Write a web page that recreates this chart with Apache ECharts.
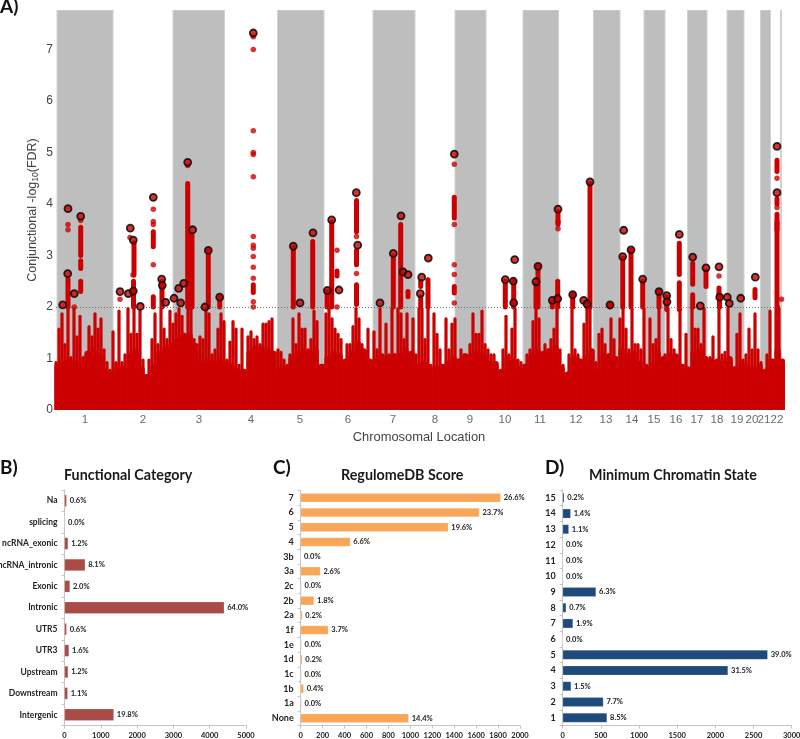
<!DOCTYPE html>
<html><head><meta charset="utf-8">
<style>html,body{margin:0;padding:0;background:#fff}#c{width:800px;height:739px;filter:blur(0.35px)}</style>
<script src="https://cdn.jsdelivr.net/npm/echarts@6/dist/echarts.min.js"></script></head>
<body><div id="c"></div>
<script>
// Panel A: genome position on a 56..782 scale
const chrNames=['1','2','3','4','5','6','7','8','9','10','11','12','13','14','15','16','17','18','19','20','21','22'];
const chrTicks=[85,143,199,251,300,348,393,435,470,505,540,576,606,632,654,676,697,717,737,752,764,777];
const grayBands=[[57,113],[173,224.5],[277.5,324],[373,415],[455,486],[523,558.5],[593.5,620],[644,665],[687.5,707],[727,744],[760.5,770.5],[780.5,781.5]];
const yTicks=[0,1,2,3,4,5,6,7];
// spikes of the dense cloud of SNPs, left to right, one value every 3 position units from 56
const cloudTops=[0.95,1.6,1.9,1.3,2.0,1.05,2.0,1.45,1.85,1.05,1.1,1.65,1.45,1.9,1.6,1.8,1.2,0.95,0.8,1.55,0.95,1.95,0.95,1.1,2.0,1.5,2.0,1.5,1.95,1.0,0.7,1.0,1.4,1.9,1.3,2.0,1.6,1.4,1.95,1.7,1.9,2.0,1.85,1.5,2.0,2.0,1.4,0.95,1.45,1.4,2.0,1.9,1.1,1.2,1.6,1.9,1.75,1.0,1.35,1.75,1.6,0.9,1.6,0.65,1.45,1.55,1.4,1.45,1.3,1.7,1.7,1.75,1.8,0.8,1.2,1.15,1.0,0.9,1.1,1.8,1.3,1.9,1.6,1.6,1.2,1.4,1.95,1.75,0.85,0.9,1.9,2.0,1.8,1.6,1.5,1.4,0.9,1.3,1.3,1.65,2.0,1.8,1.3,1.1,1.6,0.9,1.55,1.2,2.0,1.0,1.7,1.1,2.0,1.1,2.0,1.9,1.4,1.9,1.1,1.8,1.1,2.0,2.0,1.4,2.0,0.7,1.9,1.5,1.2,0.9,1.8,1.2,1.7,1.8,1.0,1.2,1.1,0.95,1.3,1.9,1.5,1.5,1.95,1.3,1.2,1.1,1.1,0.9,0.75,1.2,1.85,1.1,1.6,2.0,1.0,0.95,0.9,1.1,1.2,1.75,2.0,1.8,1.1,1.3,1.2,1.4,1.6,2.0,1.2,0.9,0.7,1.1,2.0,1.2,1.1,1.0,1.7,2.0,2.0,0.8,0.95,1.5,1.6,1.3,1.1,1.8,1.4,0.8,1.8,2.0,1.6,1.2,2.0,1.3,1.3,1.2,2.0,0.8,1.8,1.3,1.4,2.0,1.0,1.1,2.0,1.4,1.2,1.0,2.0,0.9,1.5,0.8,2.0,1.6,1.6,1.3,2.0,1.0,1.05,1.45,0.95,2.0,1.1,1.15,2.0,1.0,0.85,1.5,1.9,1.0,1.1,1.6,1.2,1.9,1.2,0.95,0.75,1.1,1.95,1.0,2.0,2.0,1.0];
// solid shoulder of the cloud, one value every 6 position units from 56
const cloudBody=[0.9,0.95,1.0,0.95,0.9,1.15,1.2,1.1,0.8,0.75,0.9,0.85,1.1,1.2,0.85,0.7,0.9,1.15,1.25,1.3,1.4,1.5,1.5,1.3,0.95,1.0,0.95,1.0,0.95,0.9,0.8,0.8,1.15,1.25,1.25,1.2,1.15,0.85,0.85,1.05,1.15,1.2,1.15,1.2,0.9,1.05,1.15,1.1,1.0,1.15,1.35,1.2,1.0,1.0,1.1,1.05,1.1,1.1,1.2,1.15,0.9,0.95,0.9,0.85,0.9,0.95,1.05,1.0,1.1,1.1,1.15,1.1,0.95,0.95,0.8,1.05,1.0,0.85,0.9,1.1,1.2,1.15,1.2,1.25,0.85,0.75,1.05,1.0,1.05,1.2,0.8,1.1,1.1,1.05,1.2,1.1,1.15,0.95,0.9,0.9,1.15,1.05,1.1,1.1,0.9,0.85,1.15,1.2,1.05,1.0,1.0,0.95,1.05,0.85,0.95,0.9,0.85,0.9,0.8,1.0,1.2,1.0];
// solid runs of SNPs: position, lowest, highest
const snpRuns=[[68,2.0,2.55],[80.7,3.0,3.55],[80.7,2.75,2.9],[80.7,2.3,2.5],[134,2.62,3.25],[133.5,2.0,2.5],[153.3,3.17,3.46],[153.3,2.0,2.2],[162,2.0,2.5],[187.7,2.0,4.4],[192,2.0,3.4],[190,2.0,2.8],[208.3,2.0,3.1],[219.7,2.0,2.2],[253.3,2.28,2.43],[293.3,2.0,3.15],[312.7,2.0,3.27],[327,2.0,2.3],[331.7,2.0,3.65],[337,2.6,2.7],[356.5,3.65,4.07],[356.5,3.46,3.65],[356.5,2.82,3.1],[356.5,2.05,2.43],[393.3,2.0,2.98],[400.7,2.0,3.6],[408,2.2,2.3],[420.7,2.0,2.2],[420.7,2.4,2.5],[428,2.0,2.53],[454.3,3.73,4.13],[454.3,2.27,2.4],[505.3,2.0,2.5],[513.7,2.0,2.5],[536,2.0,2.45],[538,2.0,2.8],[552.3,2.0,2.1],[557.7,2.0,2.5],[558,3.6,3.85],[572.7,2.0,2.25],[587,2.0,2.1],[590,2.0,4.4],[610,2.0,2.05],[622.7,2.0,2.95],[631,2.0,3.1],[642.7,2.0,2.5],[659,2.0,2.3],[666.7,1.95,2.2],[679.3,2.63,3.24],[679.3,1.95,2.47],[692.7,2.44,2.85],[692.7,2.0,2.24],[706,2.4,2.7],[719,2.24,2.37],[719.5,2.0,2.2],[755,2.18,2.34],[777,4.63,4.85],[777,4.0,4.1],[777,3.5,3.8],[777,2.0,3.65],[777.5,0.8,2.0]];
// isolated SNPs above the cloud
const snpDots=[[68,3.6],[68,3.5],[80.7,3.68],[74.3,2.0],[120,2.15],[130,3.35],[133,2.62],[153.3,3.9],[153.3,3.66],[153.3,3.6],[153.3,2.82],[187.7,4.75],[253.3,7.25],[253.3,7.0],[253.3,5.42],[253.3,5.0],[253.3,4.96],[253.3,4.53],[253.3,3.37],[253.3,3.2],[253.3,3.14],[253.3,2.98],[253.3,2.77],[253.3,2.56],[253.3,2.1],[253.3,2.0],[337,3.1],[337,2.0],[356.5,3.37],[356.5,2.65],[454.3,4.77],[454.3,3.6],[454.3,2.82],[454.3,2.63],[454.3,2.08],[558,3.52],[558,3.65],[719,2.6],[777,4.5],[777,3.93],[781.5,2.15]];
// lead SNPs (black outline)
const leadSnps=[[68,3.91],[80.7,3.76],[130.3,3.53],[153.3,4.13],[187.7,4.81],[192.7,3.5],[253.3,7.32],[313,3.44],[331.7,3.69],[356.3,4.22],[401,3.77],[62.7,2.04],[67.7,2.65],[74.3,2.26],[120,2.3],[128.3,2.26],[133.3,3.3],[133.3,2.31],[140.3,2.01],[161.7,2.54],[162.3,2.42],[165.7,2.09],[174,2.17],[178.7,2.36],[180.7,2.08],[183.7,2.46],[205,2.0],[208.3,3.1],[219.7,2.19],[293.3,3.18],[300,2.08],[327.3,2.32],[339,2.33],[357.7,3.2],[380,2.08],[393.3,3.04],[403,2.68],[408,2.63],[421.7,2.58],[420.3,2.26],[428.3,2.95],[454.3,4.97],[505.3,2.53],[513.3,2.5],[514.7,2.92],[513.7,2.08],[538,2.79],[536,2.49],[552.3,2.13],[557.7,2.16],[558,3.9],[572.7,2.24],[583.7,2.13],[587,2.06],[590,4.43],[610,2.04],[622.7,2.98],[623.7,3.49],[631,3.11],[642.7,2.54],[659,2.3],[666.7,2.22],[667,2.1],[679.3,3.41],[692.7,2.97],[700.3,2.02],[706,2.76],[719,2.78],[719.7,2.19],[727.3,2.19],[729.3,2.07],[740.7,2.17],[755.3,2.58],[777,5.12],[777,4.22]];
const thresholdLevel=[2];

// Panel B
const funcCats=['Intergenic','Downstream','Upstream','UTR3','UTR5','Intronic','Exonic','ncRNA_intronic','ncRNA_exonic','splicing','Na'];
const funcVals=[1360,90,100,125,60,4400,150,570,100,15,60];
const funcPct=['19.8%','1.1%','1.2%','1.6%','0.6%','64.0%','2.0%','8.1%','1.2%','0.0%','0.6%'];
// Panel C
const regCats=['None','1a','1b','1c','1d','1e','1f','2a','2b','2c','3a','3b','4','5','6','7'];
const regVals=[985,8,28,8,15,8,252,15,122,8,180,0,453,1346,1630,1824];
const regPct=['14.4%','0.0%','0.4%','0.0%','0.2%','0.0%','3.7%','0.2%','1.8%','0.0%','2.6%','0.0%','6.6%','19.6%','23.7%','26.6%'];
// Panel D
const chromCats=['1','2','3','4','5','6','7','8','9','10','11','12','13','14','15'];
const chromVals=[581,533,110,2166,2686,0,135,45,437,0,0,0,80,105,20];
const chromPct=['8.5%','7.7%','1.5%','31.5%','39.0%','0.0%','1.9%','0.7%','6.3%','0.0%','0.0%','0.0%','1.1%','1.4%','0.2%'];

const red='#cc0000', sans='"Liberation Sans",Arial,sans-serif', cal='Lato,"Open Sans",sans-serif';
const cloudData=cloudTops.map((v,i)=>[56+3*i,v]);
const bodyData=cloudBody.map((v,i)=>[56+6*i,v]);

function barAxes(i,cats,max,interval,catSize){
  return {
    x:{type:'value',gridIndex:i,min:0,max:max,interval:interval,splitLine:{show:false},
      axisLine:{show:true,lineStyle:{color:'#c4c4c4'}},axisTick:{show:true,length:3,lineStyle:{color:'#c4c4c4'}},
      axisLabel:{fontFamily:cal,fontWeight:'bold',fontSize:7.5,color:'#222',margin:6,formatter:v=>String(v)}},
    y:{type:'category',gridIndex:i,data:cats,axisLine:{show:true,lineStyle:{color:'#c4c4c4'}},
      axisTick:{show:true,length:3,lineStyle:{color:'#c4c4c4'}},
      axisLabel:{fontFamily:cal,fontWeight:'bold',fontSize:catSize,color:'#222',margin:7,interval:0}}
  };
}
function barSeries(i,vals,pct,color,w){
  return {type:'bar',xAxisIndex:i,yAxisIndex:i,data:vals,barWidth:w,silent:true,
    itemStyle:{color:color,borderColor:'rgba(255,255,255,0.35)',borderWidth:0.5},
    label:{show:true,position:'right',distance:3,fontFamily:cal,fontWeight:'bold',fontSize:7.5,color:'#222',
      formatter:p=>pct[p.dataIndex]}};
}
const bA=barAxes(1,funcCats,5000,1000,8.5), cA=barAxes(2,regCats,2000,200,9), dA=barAxes(3,chromCats,3000,500,9);

const option={
  animation:false,
  grid:[
    {left:56,top:10,width:726,height:400,outerBoundsMode:'none'},
    {left:64.5,top:490,width:181.5,height:235.5,outerBoundsMode:'none'},
    {left:300.7,top:490.5,width:219.3,height:235,outerBoundsMode:'none'},
    {left:562.7,top:490,width:229,height:235.5,outerBoundsMode:'none'}
  ],
  xAxis:[
    {type:'value',gridIndex:0,min:56,max:782,splitLine:{show:false},axisLine:{show:false},axisTick:{show:false},
     axisLabel:{show:false},
     name:'Chromosomal Location',nameLocation:'middle',nameGap:21,nameTextStyle:{fontFamily:sans,fontSize:12.9,color:'#444'}},
    bA.x,cA.x,dA.x
  ],
  yAxis:[
    {type:'value',gridIndex:0,min:0,max:7.767,splitLine:{show:false},axisLine:{show:false},axisTick:{show:false},
     axisLabel:{customValues:yTicks,fontFamily:sans,fontSize:12,color:'#444',margin:3},
     name:'{a|Conjunctional -log}{s|10}{a|(FDR)}',nameLocation:'middle',nameGap:16,nameRotate:90,nameMoveOverlap:false,
     nameTextStyle:{rich:{a:{fontFamily:sans,fontSize:12.5,color:'#444'},s:{fontFamily:sans,fontSize:8.5,color:'#444',verticalAlign:'bottom',padding:[6,0,0,0]}}}},
    bA.y,cA.y,dA.y
  ],
  series:[
    {type:'custom',xAxisIndex:0,yAxisIndex:0,silent:true,z:1,clip:true,data:grayBands,encode:{x:[0,1]},
     renderItem:(p,api)=>{const a=api.coord([api.value(0),7.767]),b=api.coord([api.value(1),0]);
       return {type:'rect',shape:{x:a[0],y:a[1],width:b[0]-a[0],height:b[1]-a[1]},style:{fill:'#bebebe',stroke:'#d2d2d2',lineWidth:1}};}},
    {type:'line',xAxisIndex:0,yAxisIndex:0,data:[],silent:true,z:3,
     markLine:{silent:true,symbol:'none',label:{show:false},lineStyle:{color:'#555',type:[1,2],width:0.8},data:thresholdLevel.map(v=>({yAxis:v}))}},
    {type:'bar',xAxisIndex:0,yAxisIndex:0,data:bodyData,barWidth:6.4,barGap:'-100%',silent:true,z:2,itemStyle:{color:red,borderRadius:[3,3,0,0]}},
    {type:'bar',xAxisIndex:0,yAxisIndex:0,data:cloudData,barWidth:3.2,barGap:'-100%',silent:true,z:2,itemStyle:{color:red,borderRadius:[1.6,1.6,0,0]}},
    {type:'custom',xAxisIndex:0,yAxisIndex:0,silent:true,z:4,clip:false,data:snpRuns,encode:{x:0,y:[1,2]},
     renderItem:(p,api)=>{const a=api.coord([api.value(0),api.value(1)]),b=api.coord([api.value(0),api.value(2)]);
       return {type:'line',shape:{x1:a[0],y1:a[1],x2:b[0],y2:b[1]},style:{stroke:red,lineWidth:5,lineCap:'round'}};}},
    {type:'scatter',xAxisIndex:0,yAxisIndex:0,data:snpDots,symbolSize:5.5,silent:true,z:4,itemStyle:{color:red}},
    {type:'scatter',xAxisIndex:0,yAxisIndex:0,data:leadSnps,symbolSize:7,silent:true,z:5,clip:false,itemStyle:{color:red,borderColor:'#000',borderWidth:1.8}},
    {type:'scatter',xAxisIndex:0,yAxisIndex:0,data:chrTicks.map((x,i)=>[x,0,chrNames[i]]),symbolSize:0,silent:true,z:6,clip:false,
     label:{show:true,position:'bottom',distance:4,fontFamily:sans,fontSize:11.5,color:'#444',formatter:p=>p.value[2]}},
    barSeries(1,funcVals,funcPct,'#a94b47',12),
    barSeries(2,regVals,regPct,'#f8a658',9),
    barSeries(3,chromVals,chromPct,'#1f4a7c',9.5)
  ],
  graphic:[
    {type:'text',left:0,top:-3,style:{text:'A)',font:'bold 19px '+cal,fill:'#111'}},
    {type:'text',left:0,top:458,style:{text:'B)',font:'bold 19px '+cal,fill:'#111'}},
    {type:'text',left:273,top:458,style:{text:'C)',font:'bold 19px '+cal,fill:'#111'}},
    {type:'text',left:545,top:458,style:{text:'D)',font:'bold 19px '+cal,fill:'#111'}},
    {type:'text',left:64,top:468,style:{text:'Functional Category',font:'bold 14.3px '+cal,fill:'#1a1a1a'}},
    {type:'text',left:341,top:468,style:{text:'RegulomeDB Score',font:'bold 14.3px '+cal,fill:'#1a1a1a'}},
    {type:'text',left:589,top:468,style:{text:'Minimum Chromatin State',font:'bold 14.3px '+cal,fill:'#1a1a1a'}}
  ]
};
echarts.init(document.getElementById('c'),null,{renderer:'canvas'}).setOption(option);
</script></body></html>
